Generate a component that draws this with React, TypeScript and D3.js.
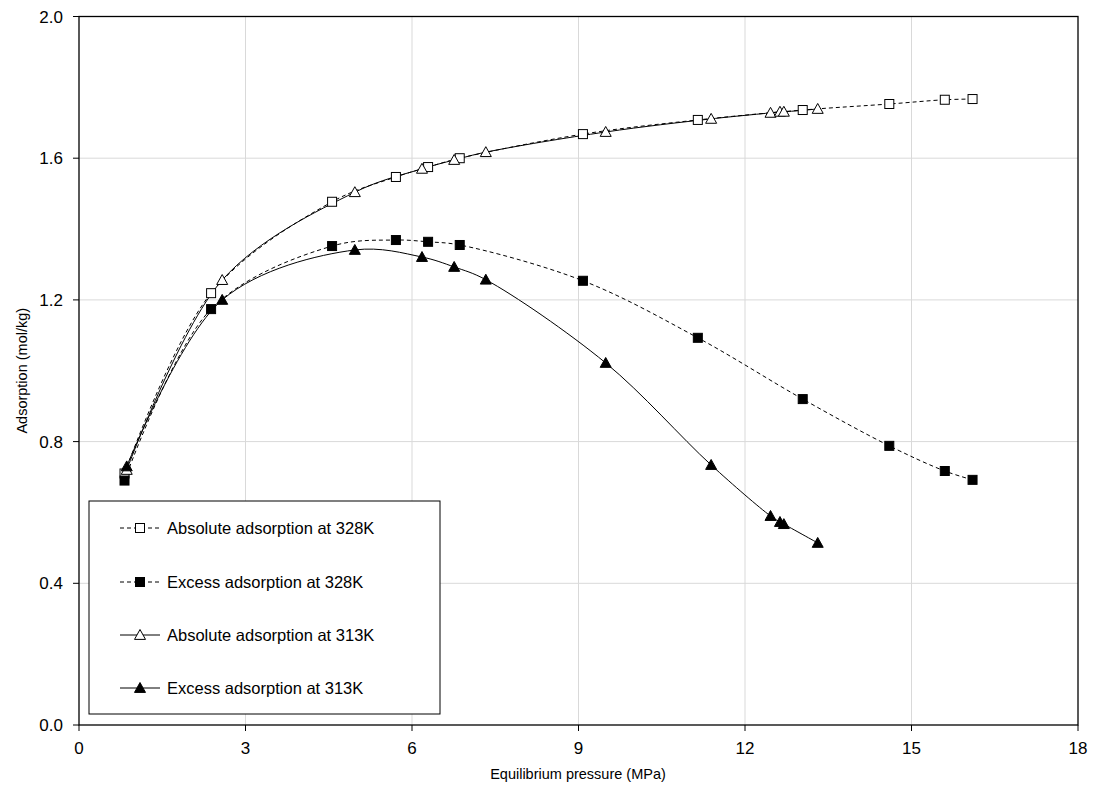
import React from "react";
import * as d3 from "d3";

const xTicks = [0, 3, 6, 9, 12, 15, 18];
const yTicks = [0, 0.4, 0.8, 1.2, 1.6, 2.0];

const p328 = [0.82, 2.38, 4.56, 5.71, 6.29, 6.86, 9.08, 11.15, 13.04, 14.6, 15.6, 16.1];
const abs328 = [0.71, 1.219, 1.477, 1.547, 1.575, 1.6, 1.668, 1.708, 1.736, 1.753, 1.765, 1.767];
const ex328 = [0.69, 1.174, 1.352, 1.369, 1.364, 1.355, 1.254, 1.093, 0.92, 0.788, 0.717, 0.692];

const p313 = [0.86, 2.58, 4.97, 6.18, 6.76, 7.33, 9.49, 11.39, 12.46, 12.63, 12.7, 13.31];
const abs313 = [0.72, 1.256, 1.504, 1.57, 1.595, 1.617, 1.674, 1.711, 1.728, 1.731, 1.731, 1.739];
const ex313 = [0.73, 1.2, 1.341, 1.321, 1.293, 1.257, 1.022, 0.734, 0.59, 0.573, 0.567, 0.514];

const seriesNames = [
  "Absolute adsorption at 328K",
  "Excess adsorption at 328K",
  "Absolute adsorption at 313K",
  "Excess adsorption at 313K",
];

const W = 1101, H = 791;
const L = 79, R = 1078, T = 16.5, B = 725;
const x = d3.scaleLinear().domain([0, 18]).range([L, R]);
const y = d3.scaleLinear().domain([0, 2]).range([B, T]);
const FONT = "'Liberation Sans', Arial, sans-serif";

type S = { name: string; xs: number[]; ys: number[]; marker: "sq" | "tri"; filled: boolean; dashed: boolean };
const series: S[] = [
  { name: seriesNames[0], xs: p328, ys: abs328, marker: "sq", filled: false, dashed: true },
  { name: seriesNames[1], xs: p328, ys: ex328, marker: "sq", filled: true, dashed: true },
  { name: seriesNames[2], xs: p313, ys: abs313, marker: "tri", filled: false, dashed: false },
  { name: seriesNames[3], xs: p313, ys: ex313, marker: "tri", filled: true, dashed: false },
];

function Marker({ cx, cy, s }: { cx: number; cy: number; s: S }) {
  const fill = s.filled ? "#000" : "#fff";
  if (s.marker === "sq") {
    const h = 4.5;
    return <rect x={cx - h} y={cy - h} width={2 * h} height={2 * h} fill={fill} stroke="#000" strokeWidth={1} />;
  }
  const h = 5.5;
  const pts = `${cx},${cy - h} ${cx + h},${cy + h * 0.8} ${cx - h},${cy + h * 0.8}`;
  return <polygon points={pts} fill={fill} stroke="#000" strokeWidth={1} />;
}

export default function App() {
  const line = d3
    .line<[number, number]>()
    .x((d) => x(d[0]))
    .y((d) => y(d[1]))
    .curve(d3.curveCatmullRom.alpha(0.5));

  const legX = 89, legY = 501, legW = 351, legH = 213;
  const rowY = [528, 582, 635, 688];

  return (
    <svg width={W} height={H} style={{ position: "absolute", left: 0, top: 0, background: "#fff" }} fontFamily={FONT}>
      <rect x={0} y={0} width={W} height={H} fill="#fff" />
      {xTicks.slice(1, -1).map((t) => (
        <line key={"gx" + t} x1={x(t)} x2={x(t)} y1={T} y2={B} stroke="#d9d9d9" strokeWidth={1} />
      ))}
      {yTicks.slice(1, -1).map((t) => (
        <line key={"gy" + t} x1={L} x2={R} y1={y(t)} y2={y(t)} stroke="#d9d9d9" strokeWidth={1} />
      ))}
      <rect x={L} y={T} width={R - L} height={B - T} fill="none" stroke="#000" strokeWidth={1.3} />
      {xTicks.map((t) => (
        <g key={"xt" + t}>
          <line x1={x(t)} x2={x(t)} y1={B} y2={B + 6} stroke="#000" />
          <text x={x(t)} y={B + 29} textAnchor="middle" fontSize={17} fill="#000">{t}</text>
        </g>
      ))}
      {yTicks.map((t) => (
        <g key={"yt" + t}>
          <line x1={L - 6} x2={L} y1={y(t)} y2={y(t)} stroke="#000" />
          <text x={L - 16} y={y(t) + 6} textAnchor="end" fontSize={17} fill="#000">{t.toFixed(1)}</text>
        </g>
      ))}
      <text x={578} y={779} textAnchor="middle" fontSize={14.5} fill="#000">Equilibrium pressure (MPa)</text>
      <text transform={`translate(27,${(T + B) / 2}) rotate(-90)`} textAnchor="middle" fontSize={14.5} fill="#000">Adsorption (mol/kg)</text>

      {series.map((s, i) => (
        <path
          key={"l" + i}
          d={line(s.xs.map((v, j) => [v, s.ys[j]] as [number, number])) || ""}
          fill="none"
          stroke="#000"
          strokeWidth={1}
          strokeDasharray={s.dashed ? "4,3" : undefined}
        />
      ))}
      {series.map((s, i) => (
        <g key={"m" + i}>
          {s.xs.map((v, j) => (
            <Marker key={j} cx={x(v)} cy={y(s.ys[j])} s={s} />
          ))}
        </g>
      ))}

      <rect x={legX} y={legY} width={legW} height={legH} fill="#fff" stroke="#000" strokeWidth={1} />
      {series.map((s, i) => (
        <g key={"lg" + i}>
          <line x1={120} x2={160} y1={rowY[i]} y2={rowY[i]} stroke="#000" strokeWidth={1} strokeDasharray={s.dashed ? "4,3" : undefined} />
          <Marker cx={140} cy={rowY[i]} s={s} />
          <text x={167} y={rowY[i] + 5.5} fontSize={16.5} fill="#000">{s.name}</text>
        </g>
      ))}
    </svg>
  );
}
